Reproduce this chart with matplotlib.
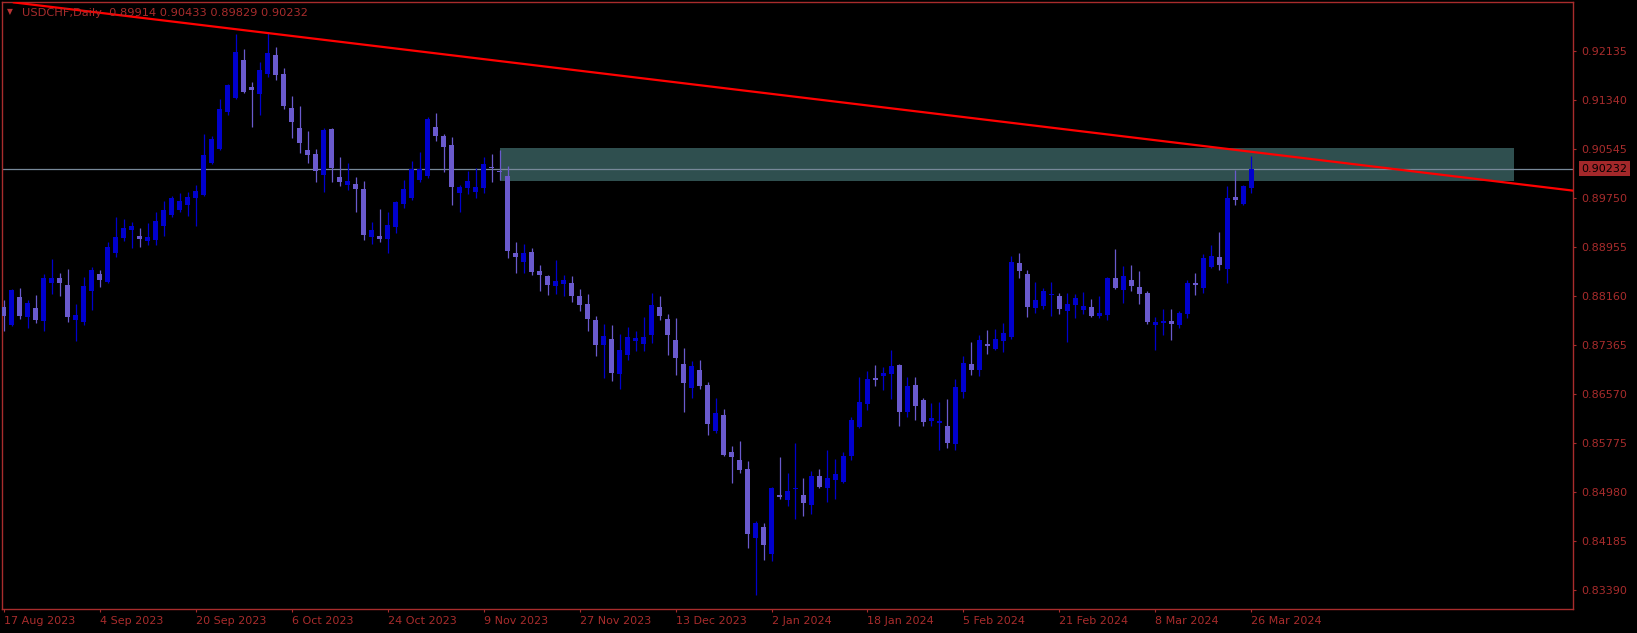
import numpy as np
import matplotlib
matplotlib.use('Agg')
import matplotlib.pyplot as plt
from matplotlib.patches import Rectangle
from matplotlib.transforms import blended_transform_factory

# USDCHF daily candles, 17 Aug 2023 .. 26 Mar 2024
opens = [
    .8799, .8769, .8815, .8782, .8797, .8775, .8838, .8846, .8834, .8777,
    .8774, .8825, .8852, .8839, .8886, .8911, .8924, .8914, .8906, .8907,
    .8930, .8948, .8956, .8964, .8976, .8980, .9032, .9055, .9115, .9138,
    .9199, .9156, .9144, .9177, .9207, .9177, .9122, .9089, .9053, .9047,
    .9013, .9087, .9010, .8997, .8998, .8990, .8912, .8913, .8909, .8928,
    .8966, .8975, .9005, .9011, .9091, .9076, .9062, .8984, .8992, .8985,
    .8992, .9026, .9020, .9011, .8886, .8872, .8888, .8857, .8849, .8833,
    .8836, .8838, .8816, .8803, .8777, .8737, .8746, .8690, .8721, .8743,
    .8739, .8753, .8799, .8779, .8745, .8706, .8667, .8696, .8672, .8597,
    .8623, .8563, .8550, .8536, .8424, .8441, .8398, .8493, .8485, .8503,
    .8493, .8477, .8524, .8505, .8518, .8515, .8557, .8604, .8641, .8683,
    .8687, .8690, .8704, .8628, .8672, .8648, .8614, .8610, .8605, .8576,
    .8660, .8706, .8696, .8739, .8730, .8743, .8750, .8870, .8852, .8797,
    .8800, .8818, .8816, .8792, .8802, .8794, .8799, .8784, .8786, .8846,
    .8826, .8842, .8831, .8821, .8769, .8773, .8776, .8769, .8787, .8838,
    .8829, .8863, .8880, .8860, .8977, .8966, .89914]
highs = [
    .8810, .8828, .8829, .8810, .8818, .8852, .8876, .8854, .8860, .8803,
    .8847, .8863, .8859, .8904, .8945, .8941, .8937, .8927, .8935, .8953,
    .8971, .8979, .8984, .8985, .8997, .9079, .9076, .9136, .9161, .9242,
    .9217, .9164, .9196, .9245, .9221, .9186, .9141, .9125, .9084, .9055,
    .9089, .9089, .9042, .9032, .9010, .9003, .8937, .8958, .8953, .8970,
    .9005, .9036, .9050, .9107, .9113, .9079, .9074, .8997, .9019, .9024,
    .9042, .9047, .9053, .9027, .8904, .8901, .8894, .8867, .8850, .8875,
    .8850, .8849, .8828, .8820, .8784, .8771, .8769, .8755, .8766, .8760,
    .8782, .8821, .8816, .8787, .8781, .8732, .8711, .8713, .8677, .8651,
    .8633, .8573, .8581, .8549, .8451, .8448, .8506, .8555, .8529, .8578,
    .8521, .8532, .8536, .8567, .8552, .8563, .8620, .8685, .8695, .8704,
    .8701, .8729, .8706, .8685, .8685, .8651, .8643, .8644, .8649, .8682,
    .8719, .8742, .8753, .8761, .8763, .8773, .8881, .8886, .8859, .8839,
    .8829, .8839, .8821, .8821, .8820, .8823, .8812, .8816, .8847, .8893,
    .8865, .8867, .8857, .8825, .8782, .8795, .8795, .8792, .8842, .8854,
    .8885, .8899, .8920, .8995, .9021, .8997, .90433]
lows = [
    .8760, .8767, .8779, .8765, .8773, .8760, .8820, .8816, .8774, .8743,
    .8769, .8794, .8831, .8838, .8880, .8906, .8894, .8896, .8899, .8899,
    .8914, .8945, .8953, .8946, .8930, .8979, .9031, .9053, .9110, .9136,
    .9146, .9091, .9110, .9172, .9167, .9120, .9073, .9049, .9032, .9001,
    .8985, .9001, .8995, .8988, .8953, .8907, .8901, .8904, .8886, .8919,
    .8959, .8972, .9001, .9008, .9068, .9018, .8964, .8953, .8982, .8975,
    .8984, .9001, .9004, .8878, .8854, .8854, .8850, .8825, .8818, .8820,
    .8816, .8807, .8792, .8760, .8719, .8683, .8678, .8665, .8713, .8727,
    .8727, .8740, .8777, .8721, .8688, .8628, .8651, .8665, .8591, .8594,
    .8557, .8513, .8529, .8407, .8331, .8388, .8386, .8487, .8476, .8454,
    .8459, .8463, .8505, .8482, .8487, .8513, .8550, .8602, .8631, .8670,
    .8664, .8650, .8605, .8620, .8615, .8605, .8605, .8567, .8570, .8567,
    .8651, .8688, .8687, .8722, .8729, .8726, .8747, .8846, .8782, .8789,
    .8795, .8784, .8787, .8742, .8781, .8787, .8783, .8781, .8777, .8828,
    .8805, .8825, .8803, .8771, .8729, .8753, .8745, .8764, .8781, .8818,
    .8821, .8862, .8859, .8838, .8964, .8964, .89829]
closes = [
    .8784, .8826, .8784, .8805, .8777, .8846, .8846, .8838, .8782, .8786,
    .8833, .8859, .8842, .8896, .8912, .8927, .8930, .8909, .8912, .8938,
    .8956, .8975, .8971, .8977, .8987, .9045, .9071, .9120, .9159, .9212,
    .9148, .9151, .9183, .9211, .9175, .9124, .9099, .9065, .9045, .9019,
    .9086, .9024, .9001, .9003, .8990, .8915, .8924, .8909, .8932, .8969,
    .8990, .9023, .9023, .9104, .9076, .9058, .8993, .8993, .9003, .8993,
    .9031, .9024, .9017, .8889, .8880, .8886, .8855, .8850, .8834, .8841,
    .8842, .8816, .8802, .8779, .8737, .8751, .8691, .8729, .8750, .8748,
    .8750, .8802, .8784, .8753, .8716, .8675, .8703, .8670, .8609, .8626,
    .8558, .8555, .8534, .8430, .8448, .8412, .8505, .8490, .8500, .8505,
    .8480, .8524, .8506, .8521, .8527, .8557, .8615, .8644, .8682, .8680,
    .8691, .8703, .8628, .8670, .8638, .8612, .8618, .8614, .8578, .8669,
    .8708, .8696, .8745, .8735, .8746, .8756, .8872, .8857, .8799, .8810,
    .8825, .8820, .8795, .8803, .8813, .8800, .8784, .8789, .8846, .8829,
    .8849, .8833, .8820, .8774, .8774, .8776, .8771, .8789, .8838, .8834,
    .8878, .8881, .8867, .8975, .8972, .8995, .90232]

date_labels = ['17 Aug 2023', '4 Sep 2023', '20 Sep 2023', '6 Oct 2023', '24 Oct 2023',
               '9 Nov 2023', '27 Nov 2023', '13 Dec 2023', '2 Jan 2024', '18 Jan 2024',
               '5 Feb 2024', '21 Feb 2024', '8 Mar 2024', '26 Mar 2024']
price_ticks = [0.92135, 0.91340, 0.90545, 0.89750, 0.88955, 0.88160,
               0.87365, 0.86570, 0.85775, 0.84980, 0.84185, 0.83390]

bid = 0.90232
# trendline anchors (bar index, price)
trend_p1 = (33, 0.92432)
trend_p2 = (156, 0.90504)
# zone rectangle
zone_x0, zone_x1 = 62, 188.8
zone_lo, zone_hi = 0.90030, 0.90566

fg = '#A82C2C'
bull_col = '#0000CD'
bear_col = '#6A5ACD'

o = np.array(opens); h = np.array(highs); l = np.array(lows); c = np.array(closes)
n = len(o)
x = np.arange(n)
up = c >= o
cols = np.where(up, bull_col, bear_col)

fig = plt.figure(figsize=(16.37, 6.33), dpi=100, facecolor='black')
ax = fig.add_axes([2 / 1637, 1 - 608.8 / 633, 1571 / 1637, 606.4 / 633], facecolor='black')

ax.add_patch(Rectangle((zone_x0, zone_lo), zone_x1 - zone_x0, zone_hi - zone_lo,
                       facecolor='#2F4F4F', edgecolor='none', zorder=1))
ax.axhline(bid, color='#778899', lw=0.9, zorder=1.5)

ax.vlines(x, l, h, colors=cols, lw=0.9, zorder=2)
body_lo = np.minimum(o, c)
body_h = np.maximum(np.abs(c - o), 0.00012)
ax.bar(x, body_h, bottom=body_lo, width=0.62, color=cols, lw=0, zorder=3)

ax.axline(trend_p1, trend_p2, color='#FF0000', lw=1.6, zorder=4)

ax.set_xlim(-0.19, 196.19)
ax.set_ylim(0.83087, 0.92929)

for s in ax.spines.values():
    s.set_color(fg)
    s.set_linewidth(1.0)

ax.set_xticks(np.arange(0, n, 12))
ax.set_xticklabels(date_labels)
for lab in ax.get_xticklabels():
    lab.set_ha('left')
ax.tick_params(axis='x', colors=fg, length=2.5, width=0.8, pad=2.5, labelsize=8)

ax.yaxis.tick_right()
ax.set_yticks(price_ticks)
ax.set_yticklabels(['%.5f' % p for p in price_ticks])
ax.tick_params(axis='y', colors=fg, length=2.5, width=0.8, pad=3.5, labelsize=8)

# current price label
tr = blended_transform_factory(ax.transAxes, ax.transData)
ax.text(1.0055, bid, '%.5f' % bid, transform=tr, ha='left', va='center', fontsize=8,
        color='black', clip_on=False,
        bbox=dict(facecolor='#A3282A', edgecolor='none', boxstyle='square,pad=0.22'))

fig.text(7 / 1637, 1 - 12 / 633, '\u25bc', color='#B83232', fontsize=5.5, va='center')
fig.text(22 / 1637, 1 - 12.5 / 633, 'USDCHF,Daily  0.89914 0.90433 0.89829 0.90232',
         color=fg, fontsize=8.2, va='center')

fig.savefig('out.png', dpi=100, facecolor='black')
